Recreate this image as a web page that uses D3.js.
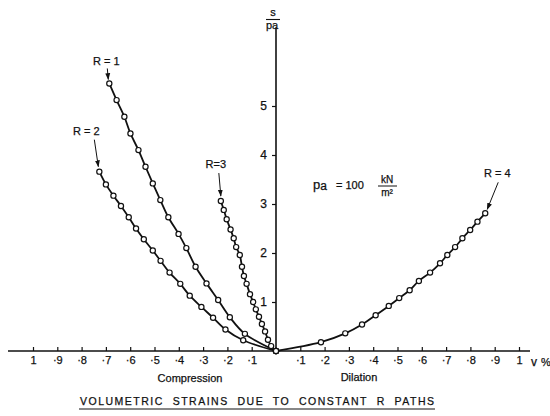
<!DOCTYPE html>
<html>
<head>
<meta charset="utf-8">
<script src="https://cdn.jsdelivr.net/npm/d3@7/dist/d3.min.js"></script>
<style>
  html, body { margin: 0; padding: 0; background: #fff; }
  svg { display: block; }
  text { font-family: "Liberation Sans", "DejaVu Sans", sans-serif; fill: #111; stroke: #111; stroke-width: 0.25px; }
</style>
</head>
<body>
<svg id="chart" width="550" height="416"></svg>
<script>
// Volumetric strain v (%) against stress ratio s/pa for four constant-R stress paths.
// Compression is plotted as negative v (left of the origin), dilation positive.
const r1V = [0, -0.128, -0.190, -0.238, -0.286, -0.331, -0.369, -0.401, -0.443, -0.476, -0.507, -0.537, -0.566, -0.599, -0.624, -0.656, -0.686];
const r1S = [0, 0.35, 0.69, 1.04, 1.38, 1.72, 2.10, 2.39, 2.73, 3.08, 3.42, 3.76, 4.10, 4.44, 4.78, 5.12, 5.46];

const r2V = [0, -0.135, -0.208, -0.259, -0.307, -0.355, -0.394, -0.438, -0.475, -0.507, -0.544, -0.576, -0.606, -0.638, -0.669, -0.700, -0.727];
const r2S = [0, 0.22, 0.44, 0.68, 0.90, 1.13, 1.37, 1.60, 1.84, 2.05, 2.28, 2.50, 2.73, 2.96, 3.17, 3.40, 3.66];

const r3V = [0, -0.020, -0.033, -0.045, -0.058, -0.070, -0.083, -0.094, -0.107, -0.121, -0.132, -0.140, -0.149, -0.164, -0.174, -0.187, -0.203, -0.215, -0.227];
const r3S = [0, 0.10, 0.23, 0.40, 0.55, 0.70, 0.85, 1.00, 1.16, 1.37, 1.53, 1.72, 1.96, 2.12, 2.30, 2.48, 2.69, 2.88, 3.06];

const r4V = [0, 0.185, 0.285, 0.354, 0.410, 0.464, 0.507, 0.550, 0.588, 0.634, 0.675, 0.705, 0.737, 0.767, 0.799, 0.829, 0.861];
const r4S = [0, 0.18, 0.36, 0.54, 0.73, 0.92, 1.08, 1.24, 1.43, 1.60, 1.79, 1.96, 2.12, 2.30, 2.47, 2.64, 2.81];

const seriesNames = ["R = 1", "R = 2", "R=3", "R = 4"];

const xTickValues = [-1, -0.9, -0.8, -0.7, -0.6, -0.5, -0.4, -0.3, -0.2, -0.1,
                     0.1, 0.2, 0.3, 0.4, 0.5, 0.6, 0.7, 0.8, 0.9, 1];
const xTickLabels = ["1", "·9", "·8", "·7", "·6", "·5", "·4", "·3", "·2", "·1",
                     "·1", "·2", "·3", "·4", "·5", "·6", "·7", "·8", "·9", "1"];
const yTickValues = [1, 2, 3, 4, 5];
const yTickLabels = ["1", "2", "3", "4", "5"];

const svg = d3.select("#chart");

const x = d3.scaleLinear().domain([-1, 1]).range([33, 519]);
const y = d3.scaleLinear().domain([0, 6.6]).range([351, 351 - 6.6 * 49]);

const ink = "#111";

// arrowhead for the series pointers
svg.append("defs").append("marker")
  .attr("id", "head")
  .attr("viewBox", "0 0 10 10")
  .attr("refX", 9).attr("refY", 5)
  .attr("markerWidth", 7).attr("markerHeight", 7)
  .attr("orient", "auto")
  .append("path").attr("d", "M0,1.5 L10,5 L0,8.5 Z").attr("fill", ink);

// main axis lines
svg.append("line")
  .attr("x1", 8).attr("x2", 530)
  .attr("y1", y(0)).attr("y2", y(0))
  .attr("stroke", ink).attr("stroke-width", 1.6);
svg.append("line")
  .attr("x1", x(0)).attr("x2", x(0))
  .attr("y1", y(0)).attr("y2", y(6.6))
  .attr("stroke", ink).attr("stroke-width", 1.6);

// x ticks and labels
const xAxis = svg.append("g")
  .attr("transform", `translate(0,${y(0)})`)
  .call(d3.axisBottom(x)
    .tickValues(xTickValues)
    .tickFormat((d, i) => xTickLabels[i])
    .tickSizeInner(-4).tickSizeOuter(0).tickPadding(5));
xAxis.select(".domain").remove();
xAxis.selectAll(".tick line").attr("stroke", ink).attr("stroke-width", 1.2);
xAxis.selectAll(".tick text")
  .style("font-family", "'Liberation Sans', sans-serif")
  .style("font-size", "11px").attr("fill", ink);

// y ticks and labels
const yAxis = svg.append("g")
  .attr("transform", `translate(${x(0)},0)`)
  .call(d3.axisLeft(y)
    .tickValues(yTickValues)
    .tickFormat((d, i) => yTickLabels[i])
    .tickSizeInner(4).tickSizeOuter(0).tickPadding(5));
yAxis.select(".domain").remove();
yAxis.selectAll(".tick line").attr("stroke", ink).attr("stroke-width", 1.2);
yAxis.selectAll(".tick text")
  .style("font-family", "'Liberation Sans', sans-serif")
  .style("font-size", "12px").attr("fill", ink);

// axis titles
const yt = svg.append("g").attr("transform", `translate(${x(0) - 3},0)`);
yt.append("text").attr("x", 0).attr("y", 16).attr("text-anchor", "middle")
  .style("font-size", "11px").text("s");
yt.append("line").attr("x1", -7).attr("x2", 7).attr("y1", 19.5).attr("y2", 19.5)
  .attr("stroke", ink).attr("stroke-width", 1.1);
const pl = yt.append("text").attr("x", -1).attr("y", 29).attr("text-anchor", "middle")
  .style("font-size", "11px");
pl.append("tspan").text("p");
pl.append("tspan").text("a");

svg.append("text").attr("x", 531).attr("y", 366)
  .style("font-size", "12px").text("v");
svg.append("text").attr("x", 541).attr("y", 366)
  .style("font-size", "11px").text("%");

svg.append("text").attr("x", 190).attr("y", 382).attr("text-anchor", "middle")
  .style("font-size", "11px").text("Compression");
svg.append("text").attr("x", 359).attr("y", 381).attr("text-anchor", "middle")
  .style("font-size", "11px").text("Dilation");

// figure caption with underline
svg.append("text").attr("x", 80).attr("y", 405)
  .attr("textLength", 354).attr("lengthAdjust", "spacing")
  .style("font-size", "10.5px")
  .style("white-space", "pre")
  .text("VOLUMETRIC  STRAINS  DUE  TO  CONSTANT  R  PATHS");
svg.append("line").attr("x1", 79).attr("x2", 435).attr("y1", 409).attr("y2", 409)
  .attr("stroke", ink).attr("stroke-width", 1.1);

// reference pressure note
const note = svg.append("g");
const pa = note.append("text").attr("x", 313).attr("y", 189).style("font-size", "13px");
pa.append("tspan").text("p");
pa.append("tspan").attr("dy", 1).style("font-size", "12px").text("a");
note.append("text").attr("x", 336).attr("y", 189).style("font-size", "11px").text("= 100");
note.append("text").attr("x", 387).attr("y", 183).attr("text-anchor", "middle")
  .style("font-size", "10px").text("kN");
note.append("line").attr("x1", 378).attr("x2", 397).attr("y1", 186).attr("y2", 186)
  .attr("stroke", ink).attr("stroke-width", 1);
note.append("text").attr("x", 387).attr("y", 196).attr("text-anchor", "middle")
  .style("font-size", "10px").text("m²");

// curves
const series = [
  { v: r1V, s: r1S, name: seriesNames[0], lab: [-3, -18], from: [-2, -15], to: [-1, -4] },
  { v: r2V, s: r2S, name: seriesNames[1], lab: [-13, -37], from: [-5, -32], to: [-1, -5] },
  { v: r3V, s: r3S, name: seriesNames[2], lab: [-5, -33], from: [-2, -28], to: [0, -5] },
  { v: r4V, s: r4S, name: seriesNames[3], lab: [12, -36], from: [13, -31], to: [2, -4] }
];

const line = d3.line()
  .x(d => x(d[0])).y(d => y(d[1]))
  .curve(d3.curveCatmullRom.alpha(0.5));

series.forEach(sr => {
  const pts = sr.v.map((v, i) => [v, sr.s[i]]);
  svg.append("path").datum(pts)
    .attr("d", line)
    .attr("fill", "none").attr("stroke", ink).attr("stroke-width", 1.8);
  svg.append("g").selectAll("circle").data(pts).join("circle")
    .attr("cx", d => x(d[0])).attr("cy", d => y(d[1]))
    .attr("r", 2.6)
    .attr("fill", "#fff").attr("stroke", ink).attr("stroke-width", 1.2);

  const end = pts[pts.length - 1];
  const ex = x(end[0]), ey = y(end[1]);
  svg.append("text")
    .attr("x", ex + sr.lab[0]).attr("y", ey + sr.lab[1])
    .attr("text-anchor", "middle")
    .style("font-size", "11px").style("white-space", "pre")
    .text(sr.name);
  svg.append("line")
    .attr("x1", ex + sr.from[0]).attr("y1", ey + sr.from[1])
    .attr("x2", ex + sr.to[0]).attr("y2", ey + sr.to[1])
    .attr("stroke", ink).attr("stroke-width", 1)
    .attr("marker-end", "url(#head)");
});
</script>
</body>
</html>
